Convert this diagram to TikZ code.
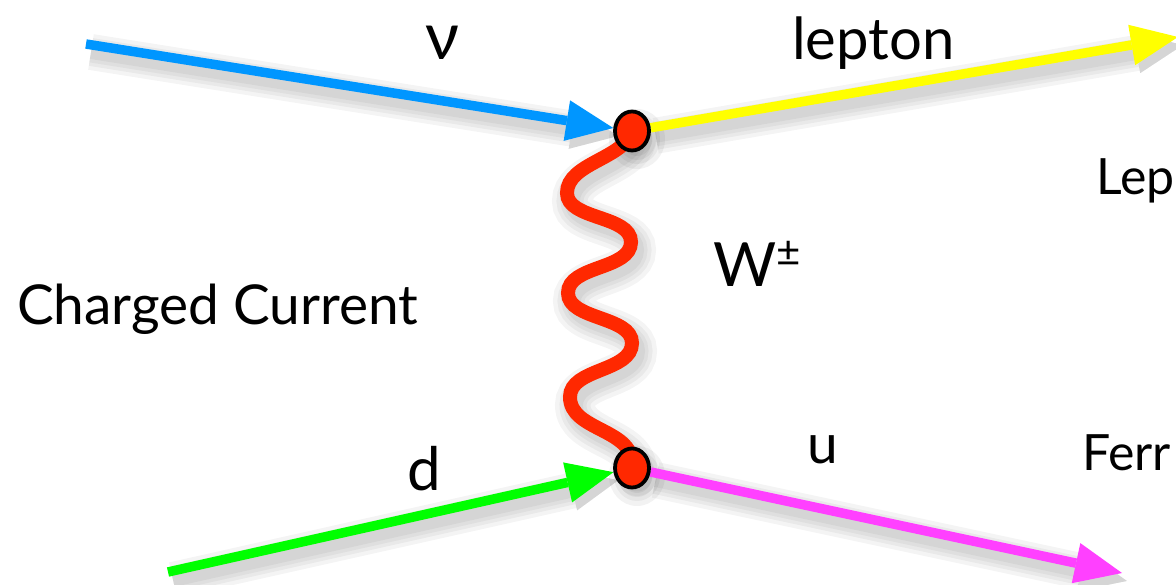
\documentclass[tikz,border=0pt]{standalone}
\usepackage{fontspec}
\setmainfont{Lato}
\usetikzlibrary{arrows.meta,shapes.geometric}
\definecolor{cblue}{RGB}{0,150,255}
\definecolor{cyellow}{RGB}{255,255,0}
\definecolor{cgreen}{RGB}{0,255,0}
\definecolor{cmag}{RGB}{255,64,255}
\definecolor{cred}{RGB}{255,40,0}
\pgfdeclarelayer{shad}
\pgfdeclarelayer{bg}
\pgfsetlayers{shad,bg,main}
\newcommand\wavepath{(v1.center) .. controls +(-8,28) and +(0,-30) .. ++(-65,62)
  .. controls +(0,27) and +(0,-27) .. ++(64,49)
  .. controls +(0,28) and +(0,-28) .. ++(-63,51)
  .. controls +(0,27) and +(0,-27) .. ++(64,50)
  .. controls +(0,29) and +(0,-29) .. ++(-62,54)
  .. controls +(0,35) and +(5,-40) .. (v2.center)}
\begin{document}
\begin{tikzpicture}[x=1pt,y=-1pt,
  arr/.style={line width=9.5pt, -{Triangle[length=47pt,width=41pt,line width=0pt]}},
  wave/.style={draw=cred, line width=14pt, line cap=round},
  vtx/.style={ellipse, draw=black, line width=3.8pt, fill=cred, minimum width=34pt, minimum height=39pt, inner sep=0pt},
  sh/.style={black, opacity=0.045, line width=#1, transform canvas={shift={(5,8)}}},
  lbl/.style={font=\fontsize{#1}{#1}\selectfont, inner sep=0pt, anchor=base west}
]
\useasboundingbox (0,0) rectangle (1176,585);
\node[vtx] (v1) at (632,131) {};
\node[vtx] (v2) at (632,468) {};
\coordinate (nuin) at (86,44);
\coordinate (lepout) at (1178,37);
\coordinate (din) at (168,572);
\coordinate (uout) at (1122,573);

\begin{pgfonlayer}{shad}
\clip (0,0) rectangle (1176,585);
\foreach \w in {36pt,28pt,21pt,14pt}{
  \draw[arr, sh=\w] (nuin) -- (v1);
  \draw[arr, sh=\w] (v1) -- (lepout);
  \draw[arr, sh=\w] (din) -- (v2);
  \draw[arr, sh=\w] (v2) -- (uout);
}
\foreach \w in {40pt,31pt,23pt,16pt}{
  \draw[sh=\w, line cap=round] \wavepath;
}
\foreach \r in {28,23,19,15}{
  \fill[black, opacity=0.05, transform canvas={shift={(5,8)}}] (v1.center) ellipse [x radius=\r, y radius=\r+2];
  \fill[black, opacity=0.05, transform canvas={shift={(5,8)}}] (v2.center) ellipse [x radius=\r, y radius=\r+2];
}
\end{pgfonlayer}

\begin{pgfonlayer}{bg}
\clip (0,0) rectangle (1176,585);
\draw[arr, cblue] (nuin) -- (v1);
\draw[arr, cyellow] (v1) -- (lepout);
\draw[arr, cgreen] (din) -- (v2);
\draw[arr, cmag] (v2) -- (uout);
\draw[wave] \wavepath;
\end{pgfonlayer}

\begin{scope}
\clip (0,0) rectangle (1176,585);
\node[lbl=66] (nu) at (425,60) {ν};
\node[lbl=58] (lep) at (792,60) {lepton};
\node[lbl=50] (lepr) at (1096,195) {Lep};
\node[lbl=61] (w) at (713,287) {W\raisebox{20pt}{\fontsize{42}{42}\selectfont ±}};
\node[lbl=55] (cc) at (17,325) {Charged Current};
\node[lbl=55] (u) at (807,463) {u};
\node[lbl=50] (ferm) at (1082,470) {Ferr};
\node[lbl=60] (d) at (407,490) {d};
\end{scope}
\end{tikzpicture}
\end{document}
